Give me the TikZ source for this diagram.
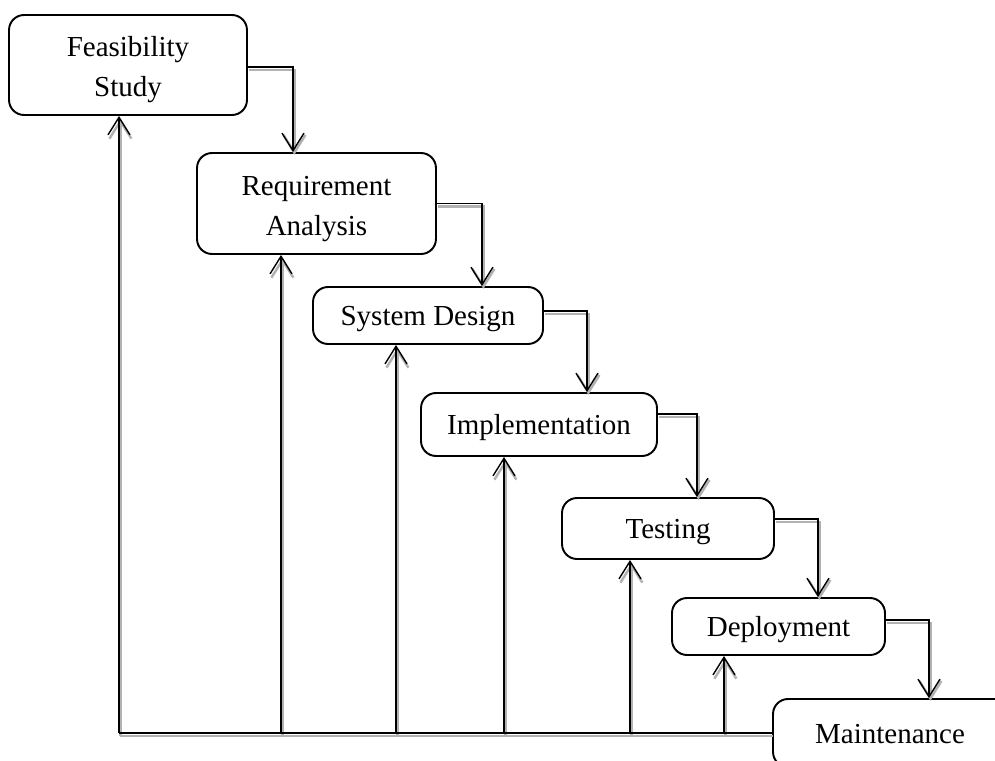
\documentclass[tikz,border=0pt]{standalone}
\usepackage{fontspec}
\setmainfont{Liberation Serif}
\usetikzlibrary{arrows.meta,calc}
\newcommand\topstrut{\rule{0pt}{17pt}}

\begin{document}
\begin{tikzpicture}[x=0.02cm,y=-0.02cm,
  phase/.style={draw,line width=1.1pt,rounded corners=0.3cm,align=center,
    inner sep=0pt,font=\fontsize{16.5}{22.7}\selectfont},
  one line/.style={text height=15pt,text depth=3.6pt},
  flow/.style={line width=0.8pt,-{Straight Barb[length=10pt,width=12.5pt]},
    preaction={draw=gray!60,line width=1.4pt,transform canvas={shift={(0.8pt,-1.6pt)}}}},
  base/.style={line width=0.8pt,
    preaction={draw=gray!60,line width=1.4pt,transform canvas={shift={(0.8pt,-1.6pt)}}}}]
\useasboundingbox (0,0) rectangle (995,761);
\clip (0,0) rectangle (995,761);
\node[phase,minimum width=4.76cm,minimum height=2cm] (feas) at (128,65) {\topstrut Feasibility\\Study};
\node[phase,minimum width=4.78cm,minimum height=2.02cm] (req) at (316.5,203.5) {\topstrut Requirement\\Analysis};
\node[phase,one line,minimum width=4.6cm,minimum height=1.14cm] (sysd) at (428,315.5) {System Design};
\node[phase,one line,minimum width=4.72cm,minimum height=1.26cm] (impl) at (539,424.5) {Implementation};
\node[phase,one line,minimum width=4.24cm,minimum height=1.22cm] (test) at (668,528.5) {Testing};
\node[phase,one line,minimum width=4.26cm,minimum height=1.14cm] (depl) at (778.5,626.5) {Deployment};
\node[phase,one line,minimum width=5.4cm,minimum height=1.36cm] (maint) at (908,733) {\hspace*{-0.72cm}Maintenance};
\draw[flow] ($(feas.east)+(0,2)$) -| ($(req.north)+(-23.5,0)$);
\draw[flow] (req.east) -| ($(sysd.north)+(54,0)$);
\draw[flow] ($(sysd.east)+(0,-4.5)$) -| ($(impl.north)+(48,0)$);
\draw[flow] ($(impl.east)+(0,-10.5)$) -| ($(test.north)+(29,0)$);
\draw[flow] ($(test.east)+(0,-9.5)$) -| ($(depl.north)+(39.5,0)$);
\draw[flow] ($(depl.east)+(0,-6.5)$) -| ($(maint.north)+(21,0)$);
\foreach \x/\n in {119/feas,281/req,396/sysd,504/impl,630/test,724/depl}
{
  \coordinate (back-\n) at (\x,733);
  \draw[flow] (back-\n) -- (back-\n |- \n.south);
}
\draw[base] (back-feas) -- (maint.west);
\end{tikzpicture}
\end{document}
